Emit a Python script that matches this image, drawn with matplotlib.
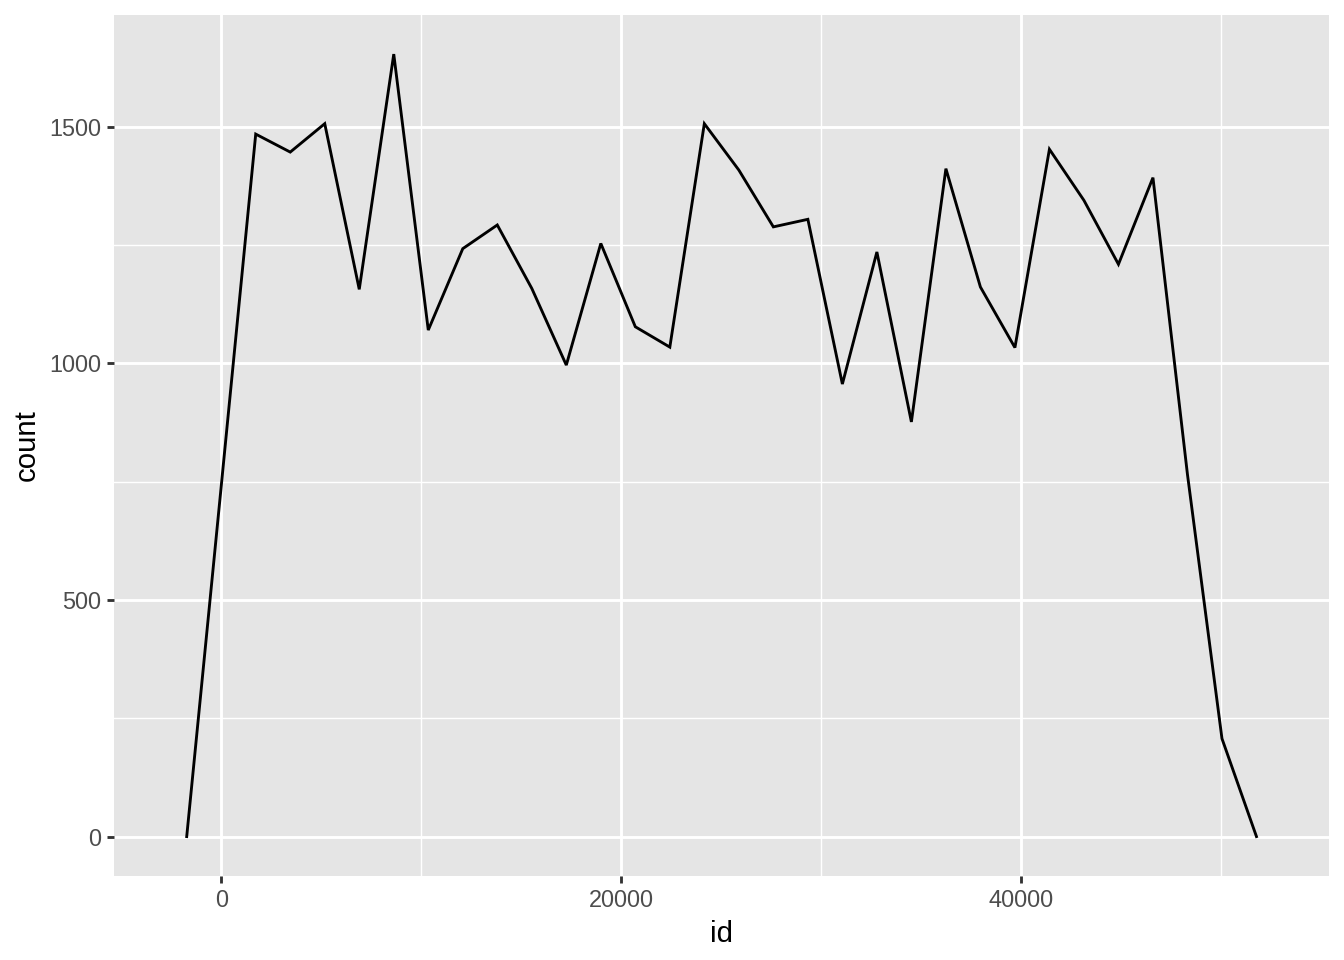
import numpy as np
import matplotlib
matplotlib.use("Agg")
import matplotlib.pyplot as plt
from matplotlib.ticker import FixedLocator

plt.rcParams["font.family"] = ["Liberation Sans", "DejaVu Sans"]

# frequency polygon: 30 bins plus zero padding at both ends
bin_width = 1725.8
first_center = -1730.0
counts = [0, 740, 1484, 1446, 1506, 1156, 1653, 1070, 1242, 1292, 1158,
          996, 1253, 1077, 1034, 1506, 1408, 1288, 1304, 956, 1235, 876,
          1411, 1161, 1033, 1452, 1344, 1209, 1392, 765, 207, 0]
x_ticks = [0, 20000, 40000]
x_minor = [10000, 30000, 50000]
y_ticks = [0, 500, 1000, 1500]
y_minor = [250, 750, 1250]

ids = first_center + bin_width * np.arange(len(counts))

fig = plt.figure(figsize=(7, 5), dpi=192)
ax = fig.add_axes([0.0850, 0.0878, 0.9038, 0.8966])
ax.set_facecolor("#E5E5E5")

ax.plot(ids, counts, color="black", lw=1.07, solid_joinstyle="miter", zorder=3)

# x scale trained on bin edges, then 5% expansion
lo = ids[0] - bin_width / 2
hi = ids[-1] + bin_width / 2
pad = 0.05 * (hi - lo)
ax.set_xlim(lo - pad, hi + pad)
ymax = max(counts)
ax.set_ylim(-0.05 * ymax, ymax * 1.05)

ax.xaxis.set_major_locator(FixedLocator(x_ticks))
ax.xaxis.set_minor_locator(FixedLocator(x_minor))
ax.yaxis.set_major_locator(FixedLocator(y_ticks))
ax.yaxis.set_minor_locator(FixedLocator(y_minor))
ax.grid(which="major", color="white", lw=1.07)
ax.grid(which="minor", color="white", lw=0.53)
ax.set_axisbelow(True)

for s in ax.spines.values():
    s.set_visible(False)

ax.tick_params(which="major", length=2.75, width=1.07, color="#333333",
               labelsize=8.8, labelcolor="#4D4D4D", pad=2.2)
ax.tick_params(which="minor", length=0)

ax.set_xlabel("id", fontsize=11, color="black", labelpad=3)
ax.set_ylabel("count", fontsize=11, color="black", labelpad=3)

fig.savefig("out.png", dpi=192, facecolor="white")
